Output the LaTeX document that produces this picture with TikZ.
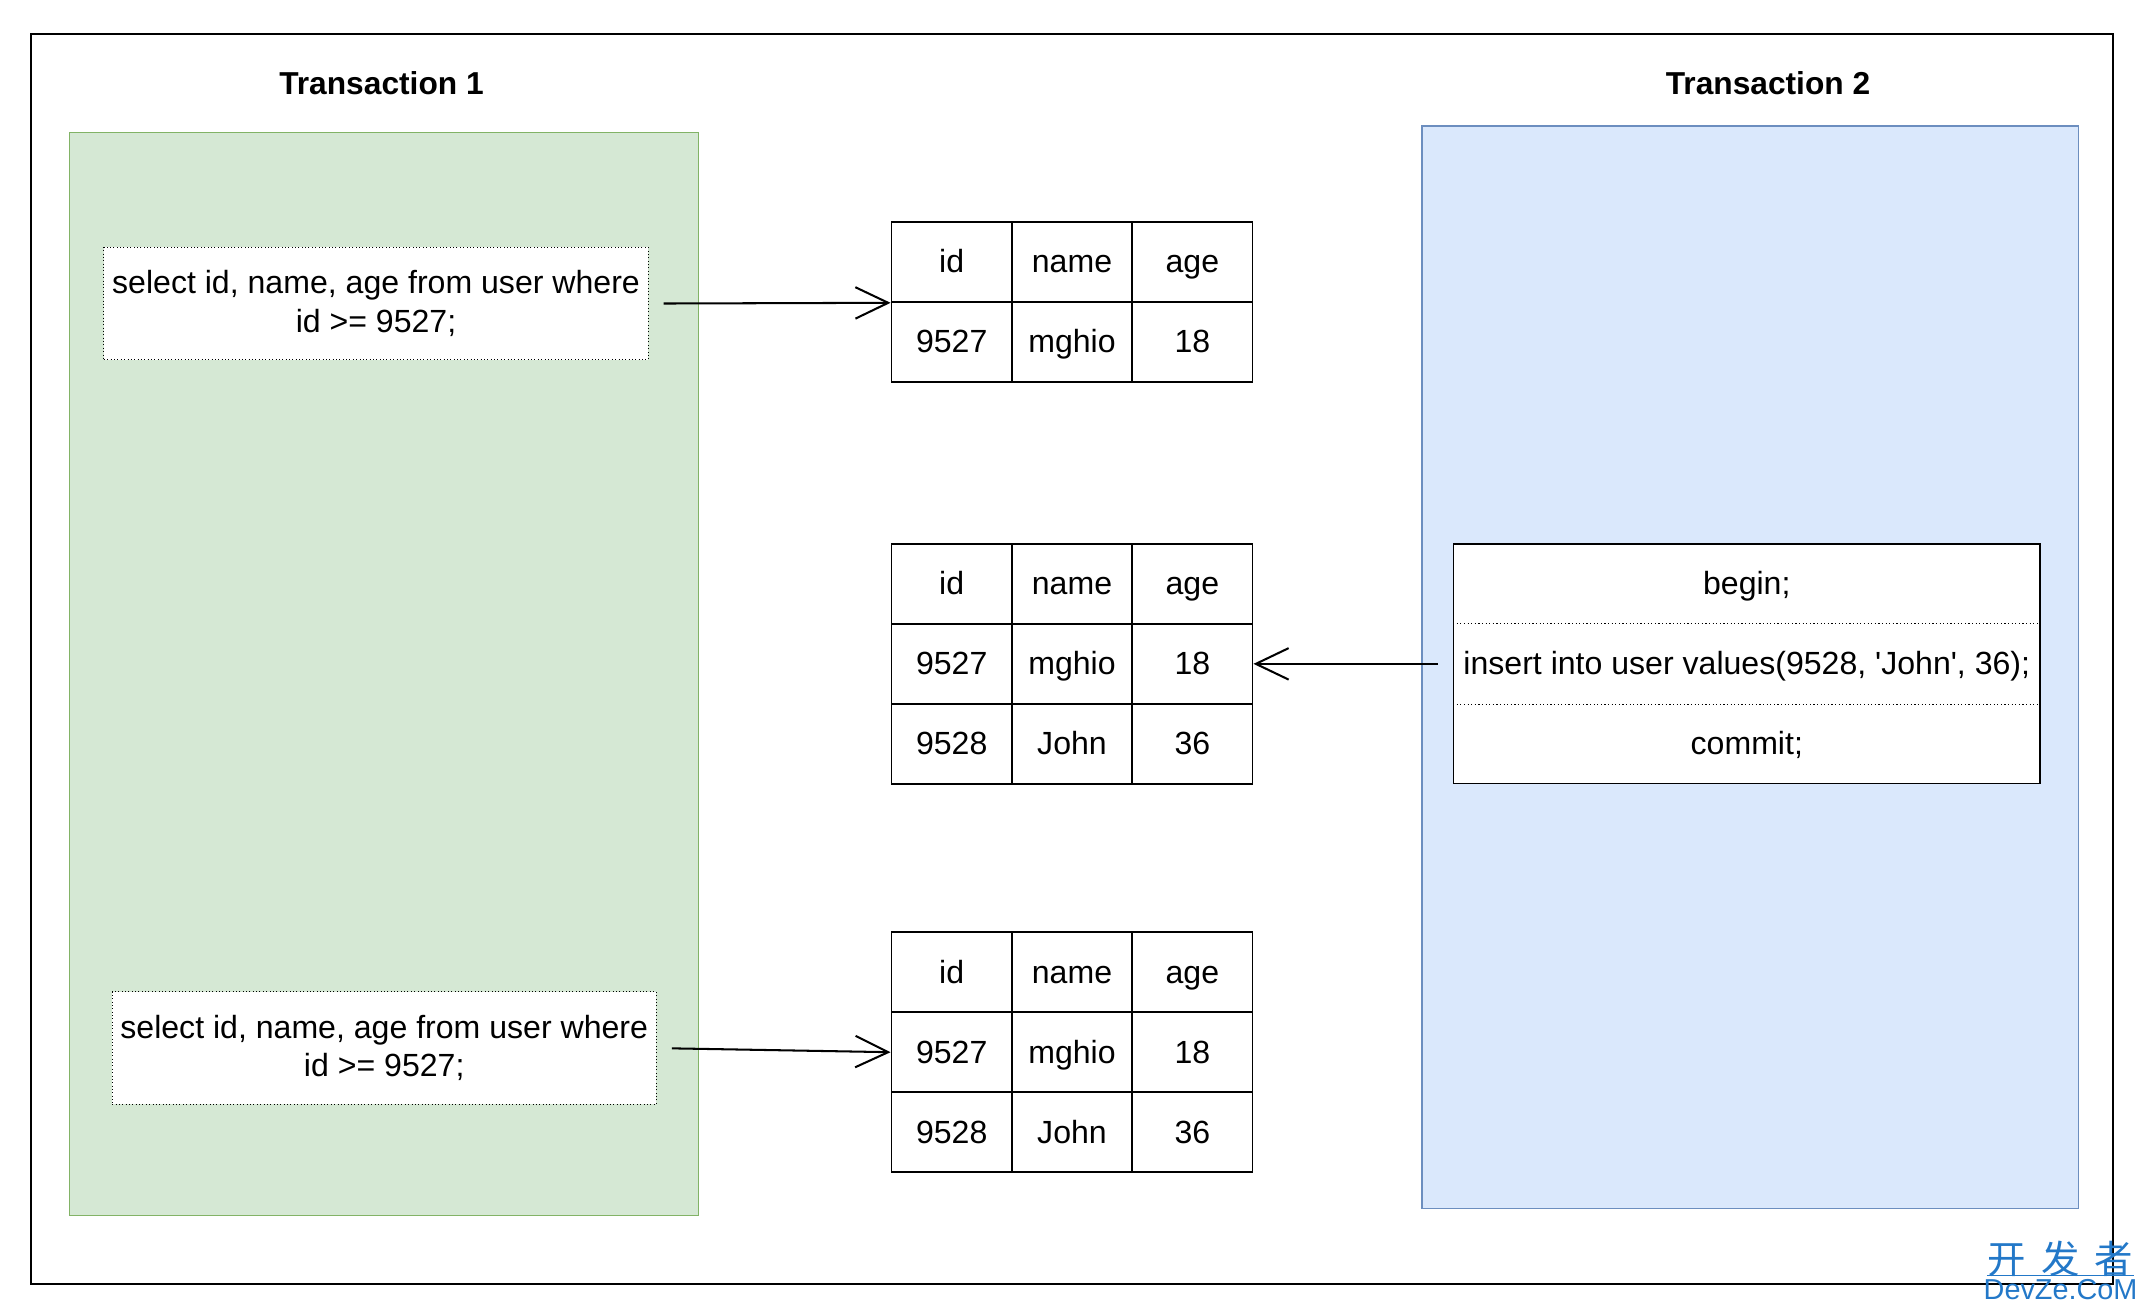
\documentclass[tikz,border=0pt]{standalone}
\usepackage{fontspec}
\setmainfont{Liberation Sans}
\newfontfamily\cjk{Noto Sans CJK SC}
\usetikzlibrary{arrows.meta}

\definecolor{txgreen}{HTML}{D5E8D4}
\definecolor{txgreenline}{HTML}{82B366}
\definecolor{txblue}{HTML}{DAE8FC}
\definecolor{txblueline}{HTML}{6C8EBF}
\definecolor{markblue}{RGB}{35,120,200}

\tikzset{
  txtitle/.style={font=\fontsize{13.2}{15}\selectfont\bfseries},
  query/.style={draw, densely dotted, fill=white, align=center, inner sep=0pt,
    minimum width=7.96cm, minimum height=1.65cm, font=\fontsize{13.35}{16}\selectfont},
  cell/.style={draw, line width=0.8pt, minimum width=1.76cm, minimum height=1.17cm,
    inner sep=0pt, text height=11.5pt, text depth=2.4pt, font=\fontsize{13.35}{15}\selectfont},
  stmt/.style={minimum width=8.58cm, minimum height=1.17cm, inner sep=0pt,
    text height=11.5pt, text depth=2.4pt, font=\fontsize{13.35}{15}\selectfont},
  link/.style={line width=0.85pt, -{Straight Barb[length=0.48cm, width=0.46cm]},
    shorten <=0.22cm}
}

\begin{document}
\begin{tikzpicture}[x=0.02cm, y=-0.02cm]
    \useasboundingbox (0,0) rectangle (1568,958);
    % frame and the two sessions
    \draw[line width=0.85pt] (23,25) rectangle (1545,939);
    \filldraw[fill=txgreen, draw=txgreenline, line width=0.6pt] (51,97) rectangle (511,889);
    \filldraw[fill=txblue, draw=txblueline, line width=0.6pt] (1040,92) rectangle (1520,884);
    \node[txtitle] (t1title) at (279,61) {Transaction 1};
    \node[txtitle] (t2title) at (1293,61) {Transaction 2};

    % queries of transaction 1
    \node[query] (q1) at (275,222) {select id, name, age from user where\\id >= 9527;};
    \node[query] (q2) at (281,766.5) {select id, name, age from user where\\id >= 9527;};

    % first read
    \node[cell] (s1h1) at (696,191.5) {id};
    \node[cell] (s1h2) at (784,191.5) {name};
    \node[cell] (s1h3) at (872,191.5) {age};
    \node[cell] (s1a1) at (696,250) {9527};
    \node[cell] (s1a2) at (784,250) {mghio};
    \node[cell] (s1a3) at (872,250) {18};

    % table after the insert
    \node[cell] (s2h1) at (696,427) {id};
    \node[cell] (s2h2) at (784,427) {name};
    \node[cell] (s2h3) at (872,427) {age};
    \node[cell] (s2a1) at (696,485.5) {9527};
    \node[cell] (s2a2) at (784,485.5) {mghio};
    \node[cell] (s2a3) at (872,485.5) {18};
    \node[cell] (s2b1) at (696,544) {9528};
    \node[cell] (s2b2) at (784,544) {John};
    \node[cell] (s2b3) at (872,544) {36};

    % second read
    \node[cell] (s3h1) at (696,711) {id};
    \node[cell] (s3h2) at (784,711) {name};
    \node[cell] (s3h3) at (872,711) {age};
    \node[cell] (s3a1) at (696,769.5) {9527};
    \node[cell] (s3a2) at (784,769.5) {mghio};
    \node[cell] (s3a3) at (872,769.5) {18};
    \node[cell] (s3b1) at (696,828) {9528};
    \node[cell] (s3b2) at (784,828) {John};
    \node[cell] (s3b3) at (872,828) {36};

    % transaction 2 statements
    \filldraw[fill=white, line width=0.8pt] (1063,398) rectangle (1492,573);
    \node[stmt] (begin) at (1277.5,427) {begin;};
    \node[stmt] (insert) at (1277.5,485.5) {insert into user values(9528, \textquotesingle John\textquotesingle, 36);};
    \node[stmt] (commit) at (1277.5,544) {commit;};
    \draw[densely dotted, line width=0.5pt] (insert.north west) -- (insert.north east);
    \draw[densely dotted, line width=0.5pt] (insert.south west) -- (insert.south east);

    % reads and write
    \draw[link] (q1.east) -- (s1h1.south west);
    \draw[link] (q2.east) -- (s3a1.west);
    \draw[link] (insert.west) -- (s2a3.east);

    % watermark
    \node[text=markblue, inner sep=0pt, font=\cjk\fontsize{16}{17}\selectfont] (markcn) at (1507,921) {开\,\ 发\,\ 者};
    \draw[markblue, line width=0.3pt] (1453,933) -- (1561,933);
    \node[text=markblue, inner sep=0pt, font=\fontsize{12}{13}\selectfont] (markdz) at (1507,943) {DevZe.CoM};
\end{tikzpicture}
\end{document}
